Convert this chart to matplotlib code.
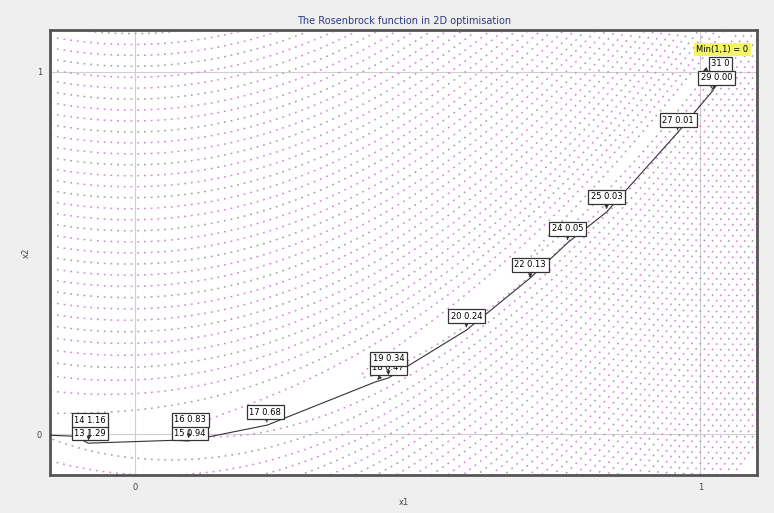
import numpy as np
import matplotlib
matplotlib.use("Agg")
import matplotlib.pyplot as plt

# optimisation path (x1, x2) with iteration and f value labels
iters = [13, 14, 15, 16, 17, 18, 19, 20, 22, 24, 25, 27, 29, 31]
x1_path = [-0.106, -0.083, 0.071, 0.094, 0.234, 0.425, 0.448, 0.586, 0.699, 0.765, 0.834, 0.959, 1.023, 1.0]
x2_path = [-0.006, -0.025, -0.017, -0.019, 0.025, 0.144, 0.155, 0.287, 0.431, 0.528, 0.613, 0.831, 0.950, 1.0]
f_labels = ["1.29", "1.16", "0.94", "0.83", "0.68", "0.47", "0.34", "0.24", "0.13", "0.05", "0.03", "0.01", "0.00", "0"]
start = (-0.2, 0.0)
min_label = "Min(1,1) = 0"

# label offsets in pixels from each point (dx, dy up)
offsets = [(15, 3), (2, 23), (15, 7), (2, 21), (-2, 13), (13, 14), (0, 19),
           (0, 14), (0, 13), (0, 14), (0, 15), (1, 13), (3, 12), (20, 8)]

fig = plt.figure(figsize=(7.74, 5.13), dpi=100, facecolor="#efefef")
ax = fig.add_axes([0.065, 0.074, 0.913, 0.868])
ax.set_facecolor("white")

xmin, xmax, ymin, ymax = -0.15, 1.10, -0.113, 1.116
X, Y = np.meshgrid(np.linspace(xmin, xmax, 400), np.linspace(ymin, ymax, 400))
Z = (1 - X) ** 2 + 100 * (Y - X ** 2) ** 2
levels = (np.arange(1, 42) * 0.3) ** 2
cols = ["#d38ad6" if i % 3 else "#a4a4b0" for i in range(len(levels))]
ax.contour(X, Y, Z, levels=levels, colors=cols, linestyles=[(0, (1.2, 3.2))], linewidths=1.1)

# reference lines at 0 and 1
for v in (0, 1):
    ax.axvline(v, color="#cfcfcf", lw=0.8, zorder=1)
    ax.axhline(v, color="#cfcfcf", lw=0.8, zorder=1)

ax.plot([start[0]] + x1_path, [start[1]] + x2_path, color="#333333", lw=0.8, zorder=3)

px = 0.72  # points per pixel
for it, x, y, f, (dx, dy) in zip(iters, x1_path, x2_path, f_labels, offsets):
    ax.annotate(f"{it} {f}", xy=(x, y), xytext=(dx * px, dy * px), textcoords="offset points",
                ha="center", va="center", fontsize=6, zorder=5,
                bbox=dict(boxstyle="square,pad=0.3", fc="white", ec="#333333", lw=0.9),
                arrowprops=dict(arrowstyle="-|>", color="#333333", lw=0.6, mutation_scale=6))

ax.annotate(min_label, xy=(1.0, 1.0), xytext=(22 * px, 22 * px), textcoords="offset points",
            ha="center", va="center", fontsize=6, zorder=6,
            bbox=dict(boxstyle="square,pad=0.25", fc="#f4f46a", ec="none"))

ax.set_xlim(xmin, xmax)
ax.set_ylim(ymin, ymax)
ax.set_xticks([0, 1])
ax.set_yticks([0, 1])
ax.tick_params(length=0, labelsize=6, colors="#444444", pad=6)
ax.set_xlabel("x1", fontsize=6, color="#444444")
ax.set_ylabel("x2", fontsize=6, color="#444444")
ax.set_title("The Rosenbrock function in 2D optimisation", fontsize=7, color="#2a3a8a", pad=4)
for s in ax.spines.values():
    s.set_color("#555555")
    s.set_linewidth(2)

fig.savefig("out.png", dpi=100, facecolor=fig.get_facecolor())
